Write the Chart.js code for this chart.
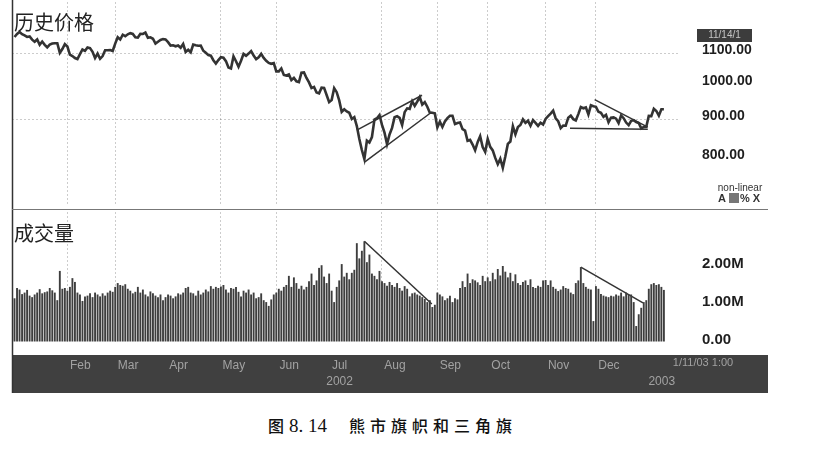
<!DOCTYPE html>
<html lang="zh">
<head>
<meta charset="UTF-8">
<title>熊市旗帜和三角旗</title>
<script src="https://cdn.jsdelivr.net/npm/chart.js"></script>
<style>
  body { margin: 0; background: #fff; }
  #wrap { position: relative; width: 813px; height: 461px; background: #fff; overflow: hidden; }
  #priceChart { position: absolute; left: 0; top: 0; }
  #volumeChart { position: absolute; left: 0; top: 210px; }
  #caption { position: absolute; left: 268px; top: 415px; line-height: 20px; font-family: "Noto Sans CJK SC"; font-size: 16px; font-weight: 500; color: #111; white-space: nowrap; }
  #caption .num { font-family: "Liberation Serif"; font-size: 19px; margin-left: 5px; }
  #caption .ttl { margin-left: 22px; letter-spacing: 5px; }
</style>
</head>
<body>
<div id="wrap">
  <canvas id="priceChart" width="813" height="210"></canvas>
  <canvas id="volumeChart" width="813" height="185"></canvas>
  <div id="caption"><span>图</span><span class="num">8. 14</span><span class="ttl">熊市旗帜和三角旗</span></div>
</div>
<script>
// x = trading day index, 0 = Jan 2 2002
const monthStarts = [21, 40, 60, 82, 104, 124, 146, 168, 188, 211, 231, 252];
const monthLabels = [['Feb'], ['Mar'], ['Apr'], ['May'], ['Jun'], ['Jul', '2002'], ['Aug'], ['Sep'], ['Oct'], ['Nov'], ['Dec'], ['', '2003']];
const gridMonths = [21, 40, 82, 104, 146, 168, 188, 211, 231];
const priceTicks = [800, 900, 1000, 1100];
const priceGrid = [900, 1100];
const volumeTicks = [0, 1, 2];

const closes = [
  // Jan
  1154.7, 1165.3, 1172.5, 1164.9, 1160.7, 1155.1, 1156.6, 1145.6, 1138.4, 1146.2, 1127.6, 1138.9, 1127.6, 1119.3, 1128.2, 1132.2, 1133.3, 1133.1, 1100.6, 1113.6, 1130.2,
  // Feb
  1122.2, 1094.4, 1090.0, 1083.5, 1080.2, 1096.2, 1111.9, 1107.5, 1118.5, 1116.5, 1104.2, 1083.3, 1098.0, 1081.0, 1089.8, 1109.4, 1109.4, 1109.9, 1106.7,
  // Mar
  1131.8, 1153.8, 1146.1, 1162.8, 1157.5, 1164.3, 1168.3, 1165.6, 1154.1, 1153.0, 1166.2, 1165.6, 1170.3, 1151.9, 1153.6, 1148.7, 1131.9, 1138.5, 1144.6, 1147.4,
  // Apr
  1146.5, 1136.8, 1125.4, 1126.3, 1122.7, 1125.3, 1117.8, 1130.5, 1103.7, 1111.0, 1102.6, 1128.4, 1126.1, 1124.5, 1125.2, 1107.8, 1101.0, 1093.1, 1091.5, 1076.3, 1065.5, 1076.9,
  // May
  1086.5, 1084.6, 1073.4, 1052.7, 1049.5, 1088.9, 1073.0, 1055.0, 1074.6, 1097.3, 1091.1, 1098.2, 1106.6, 1091.9, 1079.9, 1086.0, 1097.1, 1083.8, 1074.6, 1067.7, 1064.7, 1067.1,
  // Jun
  1040.7, 1040.7, 1049.9, 1029.2, 1027.5, 1030.7, 1013.6, 1020.3, 1009.6, 1007.3, 1036.2, 1037.1, 1020.0, 1006.3, 989.1, 992.7, 976.1, 973.5, 990.6, 989.8,
  // Jul
  968.7, 948.1, 954.0, 989.0, 977.0, 952.8, 920.5, 927.4, 921.4, 917.9, 900.9, 906.0, 881.6, 847.8, 819.9, 797.7, 843.4, 838.7, 852.8, 899.0, 902.8, 911.6,
  // Aug
  884.7, 864.2, 834.6, 859.6, 876.8, 905.5, 908.6, 903.8, 884.2, 919.6, 930.3, 928.8, 950.7, 937.4, 949.4, 962.7, 940.9, 948.0, 934.8, 917.9, 917.8, 916.1,
  // Sep
  878.0, 893.4, 879.2, 893.9, 903.0, 909.6, 909.5, 886.9, 889.8, 891.1, 873.5, 869.5, 843.3, 845.4, 833.7, 819.3, 839.7, 855.0, 827.4, 815.3,
  // Oct
  847.9, 827.9, 819.0, 800.6, 785.3, 798.6, 776.8, 803.9, 835.3, 841.4, 881.3, 860.0, 879.2, 884.4, 899.7, 890.2, 896.1, 882.5, 897.7, 890.2, 882.2, 890.7, 885.8,
  // Nov
  901.0, 908.4, 915.4, 923.8, 902.7, 894.7, 876.2, 883.0, 882.5, 904.3, 909.8, 900.4, 896.7, 914.2, 933.8, 930.6, 932.9, 913.3, 938.9, 936.3,
  // Dec
  934.5, 920.8, 917.6, 906.6, 912.2, 892.0, 904.5, 905.0, 901.6, 889.5, 910.4, 903.0, 891.1, 884.3, 895.8, 897.4, 892.5, 889.7, 875.4, 879.4, 879.8,
  // Jan 2003
  909.0, 908.6, 929.0, 922.9, 909.9, 927.6, 927.6
];

// millions
const volumes = [
  1.15, 1.42, 1.38, 1.26, 1.30, 1.37, 1.22, 1.18, 1.25, 1.30, 1.39, 1.28, 1.31, 1.33, 1.42, 1.36, 1.30, 1.10, 1.87, 1.40, 1.42,
  1.35, 1.45, 1.68, 1.58, 1.30, 1.25, 1.08, 1.20, 1.22, 1.28, 1.18, 1.30, 1.25, 1.20, 1.28, 1.22, 1.30, 1.35, 1.32,
  1.45, 1.55, 1.50, 1.48, 1.52, 1.40, 1.35, 1.28, 1.32, 1.45, 1.30, 1.38, 1.25, 1.20, 1.33, 1.28, 1.22, 1.18, 1.25, 1.10,
  1.18, 1.25, 1.22, 1.15, 1.20, 1.28, 1.25, 1.30, 1.42, 1.45, 1.30, 1.28, 1.22, 1.35, 1.25, 1.30, 1.38, 1.33, 1.47, 1.40, 1.45, 1.42,
  1.46, 1.50, 1.38, 1.30, 1.42, 1.40, 1.45, 1.32, 1.20, 1.35, 1.30, 1.38, 1.25, 1.30, 1.15, 1.18, 1.28, 1.10, 1.05, 0.95, 1.12, 1.25,
  1.30, 1.40, 1.35, 1.45, 1.50, 1.74, 1.45, 1.70, 1.55, 1.40, 1.48, 1.38, 1.45, 1.60, 1.80, 1.50, 1.62, 1.95, 2.02, 1.72,
  1.55, 1.80, 1.35, 1.05, 1.45, 1.62, 2.05, 1.72, 1.82, 1.65, 1.82, 1.90, 2.60, 2.20, 2.40, 2.65, 2.10, 2.30, 1.80, 1.74, 1.65, 1.87,
  1.60, 1.55, 1.48, 1.58, 1.50, 1.45, 1.55, 1.42, 1.35, 1.47, 1.40, 1.20, 1.28, 1.30, 1.25, 1.22, 1.18, 1.13, 1.05, 1.10, 0.92, 0.98,
  1.30, 1.25, 1.20, 1.10, 1.15, 1.22, 1.05, 1.15, 1.12, 1.42, 1.60, 1.45, 1.80, 1.55, 1.65, 1.62, 1.57, 1.50, 1.74, 1.60,
  1.70, 1.60, 1.82, 1.65, 1.92, 1.75, 2.00, 1.85, 1.70, 1.82, 1.60, 1.78, 1.55, 1.50, 1.58, 1.62, 1.50, 1.65, 1.45, 1.42, 1.48, 1.45, 1.62,
  1.63, 1.50, 1.62, 1.45, 1.40, 1.34, 1.38, 1.47, 1.42, 1.40, 1.30, 1.26, 1.55, 1.62, 1.97, 1.55, 1.45, 1.40, 1.38, 0.55,
  1.47, 1.40, 1.26, 1.22, 1.20, 1.18, 1.22, 1.20, 1.25, 1.22, 1.30, 1.20, 1.30, 1.25, 1.25, 1.05, 0.42, 0.73, 0.90, 1.05, 1.10,
  1.40, 1.52, 1.55, 1.50, 1.52, 1.45, 1.37
];

// drawn trend lines: [day index, value]
const flagUpper = [[136.0, 871], [161.9, 968]];
const flagLower = [[139.2, 791], [165.8, 920]];
const pennantUpper = [[230.5, 955], [251.6, 879]];
const pennantLower = [[220.7, 876], [251.6, 873]];
const volLine1 = [[139, 2.65], [165.8, 1.0]];
const volLine2 = [[225, 1.97], [249.7, 1.03]];

const toPts = arr => arr.map(p => ({ x: p[0], y: p[1] }));
const trend = (pts) => ({
  type: 'line', data: toPts(pts), borderColor: '#333', borderWidth: 1.5, pointRadius: 0, fill: false
});

const gridDash = 'rgba(0,0,0,0.2)';

function xScale(showLabels) {
  return {
    type: 'linear',
    min: -1,
    max: 264.4,
    offset: false,
    afterBuildTicks: s => { s.ticks = monthStarts.map(v => ({ value: v })); },
    afterFit: s => { s.height = showLabels ? 53 : 0; },
    grid: {
      offset: false,
      drawTicks: false,
      color: c => (c.tick && gridMonths.includes(c.tick.value)) ? gridDash : 'rgba(0,0,0,0)'
    },
    border: { display: false, dash: [2, 2] },
    ticks: {
      display: showLabels,
      autoSkip: false,
      maxRotation: 0,
      padding: 16,
      labelOffset: 13,
      color: '#a2a2a2',
      font: { family: 'Liberation Sans', size: 12, lineHeight: 1.34 },
      callback: (v, i) => monthLabels[i]
    }
  };
}

// right value axis; labels pushed out with an invisible tick mark so no extra layout padding is asked for
function yScale(extra) {
  return Object.assign({
    position: 'right',
    afterFit: s => { s.width = 133; },
    border: { display: false, dash: [2, 2] },
  }, extra);
}

const priceDeco = {
  id: 'priceDeco',
  afterDraw(chart) {
    const c = chart.ctx;
    c.save();
    c.fillStyle = '#222';
    c.font = '20px "Noto Sans CJK SC"';
    c.textBaseline = 'middle';
    c.fillText('历史价格', 14, 22);
    c.strokeStyle = '#333';
    c.lineWidth = 1.5;
    c.beginPath(); c.moveTo(12.5, 0); c.lineTo(12.5, 210); c.stroke();
    c.strokeStyle = '#777';
    c.lineWidth = 1;
    c.beginPath(); c.moveTo(12, 209.5); c.lineTo(768, 209.5); c.stroke();
    c.fillStyle = '#3c3c3c';
    c.fillRect(697, 29, 55, 13);
    c.fillStyle = '#c4c4c4';
    c.font = '10px "Liberation Sans"';
    c.textAlign = 'center';
    c.fillText('11/14/1', 724.5, 35.5);
    c.fillStyle = '#333';
    c.fillText('non-linear', 740, 188);
    c.font = 'bold 11px "Liberation Sans"';
    c.textAlign = 'left';
    c.fillText('A', 718, 199);
    c.fillText('% X', 740, 199);
    c.fillStyle = '#777';
    c.fillRect(729, 193, 10, 10);
    c.restore();
  }
};

const volumeDeco = {
  id: 'volumeDeco',
  beforeDraw(chart) {
    const c = chart.ctx;
    c.save();
    c.fillStyle = '#404040';
    c.fillRect(12, 145, 756, 38);
    c.restore();
  },
  afterDraw(chart) {
    const c = chart.ctx;
    c.save();
    c.fillStyle = '#222';
    c.font = '20px "Noto Sans CJK SC"';
    c.textBaseline = 'middle';
    c.fillText('成交量', 14, 23.5);
    c.strokeStyle = '#333';
    c.lineWidth = 1.5;
    c.beginPath(); c.moveTo(12.5, 0); c.lineTo(12.5, 183); c.stroke();
    c.fillStyle = '#a2a2a2';
    c.font = '11px "Liberation Sans"';
    c.textAlign = 'center';
    c.fillText('1/11/03 1:00', 703, 153);
    c.restore();
  }
};

new Chart(document.getElementById('priceChart'), {
  type: 'line',
  data: {
    datasets: [
      {
        data: closes.map((v, i) => ({ x: i, y: v })),
        borderColor: '#333',
        borderWidth: 2.6,
        pointRadius: 0,
        fill: false,
        tension: 0
      },
      trend(flagUpper), trend(flagLower), trend(pennantUpper), trend(pennantLower)
    ]
  },
  options: {
    responsive: false,
    animation: false,
    events: [],
    layout: { padding: { left: 12, top: 2, right: 0, bottom: 4 } },
    plugins: { legend: { display: false }, tooltip: { enabled: false } },
    scales: {
      x: xScale(false),
      y: yScale({
        type: 'logarithmic',
        min: 692,
        max: 1284,
        afterBuildTicks: s => { s.ticks = priceTicks.map(v => ({ value: v })); },
        grid: {
          drawTicks: true,
          tickLength: 22,
          tickColor: 'rgba(0,0,0,0)',
          color: c => (c.tick && priceGrid.includes(c.tick.value)) ? gridDash : 'rgba(0,0,0,0)'
        },
        ticks: {
          padding: 0,
          labelOffset: -3,
          color: '#1e1e1e',
          font: { family: 'Liberation Sans', size: 14, weight: 'bold', lineHeight: 0.2 },
          callback: v => Number(v).toFixed(2)
        }
      })
    }
  },
  plugins: [priceDeco]
});

new Chart(document.getElementById('volumeChart'), {
  type: 'bar',
  data: {
    datasets: [
      {
        data: volumes.map((v, i) => ({ x: i, y: v })),
        backgroundColor: '#3e3e3e',
        barPercentage: 0.75,
        categoryPercentage: 1
      },
      trend(volLine1), trend(volLine2)
    ]
  },
  options: {
    responsive: false,
    animation: false,
    events: [],
    layout: { padding: { left: 12, top: 2, right: 0, bottom: 0 } },
    plugins: { legend: { display: false }, tooltip: { enabled: false } },
    scales: {
      x: xScale(true),
      y: yScale({
        type: 'linear',
        min: 0,
        max: 3.42,
        afterBuildTicks: s => { s.ticks = volumeTicks.map(v => ({ value: v })); },
        grid: { drawOnChartArea: false, drawTicks: true, tickLength: 22, tickColor: 'rgba(0,0,0,0)' },
        ticks: {
          padding: 0,
          labelOffset: -2,
          color: '#1e1e1e',
          font: { family: 'Liberation Sans', size: 15, weight: 'bold', lineHeight: 0.2 },
          callback: v => v === 0 ? '0.00' : v.toFixed(2) + 'M'
        }
      })
    }
  },
  plugins: [volumeDeco]
});
</script>
</body>
</html>
